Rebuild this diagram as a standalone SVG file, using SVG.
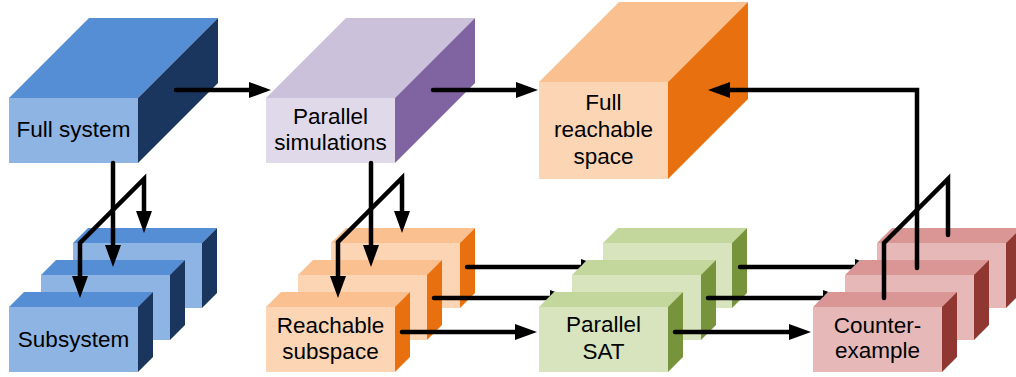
<svg xmlns="http://www.w3.org/2000/svg" width="1016" height="377" viewBox="0 0 1016 377">
  <style>
    text { font-family: "Liberation Sans", Arial, sans-serif; font-size: 22.5px; fill: #000; text-anchor: middle; }
    .blue .top { fill: #558ED5; } .blue .front { fill: #8EB4E3; } .blue .side { fill: #1B365E; }
    .purple .top { fill: #CCC1DA; } .purple .front { fill: #E0D9EA; } .purple .side { fill: #8064A2; }
    .orange .top { fill: #FAC090; } .orange .front { fill: #FCD5B5; } .orange .side { fill: #E9700F; }
    .green .top { fill: #C3D69B; } .green .front { fill: #D7E4BD; } .green .side { fill: #77933C; }
    .red .top { fill: #D99694; } .red .front { fill: #E6B9B8; } .red .side { fill: #913732; }
    .link { fill: none; stroke: #000; stroke-width: 4.5; stroke-linecap: round; stroke-linejoin: miter; }
    .arrow { marker-end: url(#head); }
    .both { marker-start: url(#head); marker-end: url(#head); }
  </style>
  <defs>
    <marker id="head" markerUnits="userSpaceOnUse" viewBox="0 0 22 16" markerWidth="22" markerHeight="16" refX="12" refY="8" orient="auto-start-reverse">
      <path d="M0,0 L22,8 L0,16 Z" fill="#000"/>
    </marker>
    <!-- areas left uncovered by the slab in front of each arrow tip -->
    <clipPath id="behindG2"><path clip-rule="evenodd" d="M0,0H1016V377H0Z M572,340 V275 L587,260 H716 V325 L701,340 Z"/></clipPath>
    <clipPath id="behindG1"><path clip-rule="evenodd" d="M0,0H1016V377H0Z M539,372 V307 L554,292 H683 V357 L668,372 Z"/></clipPath>
    <clipPath id="behindR2"><path clip-rule="evenodd" d="M0,0H1016V377H0Z M845,340 V275 L860,260 H989 V325 L974,340 Z"/></clipPath>
    <clipPath id="behindR1"><path clip-rule="evenodd" d="M0,0H1016V377H0Z M813,372 V307 L828,292 H957 V357 L942,372 Z"/></clipPath>
  </defs>

  <!-- large blocks: front 129 wide, depth 80 -->
  <g id="full-system" class="blue" transform="translate(9,98)">
    <polygon class="top" points="0,0 80,-80 209,-80 129,0"/>
    <polygon class="side" points="129,0 209,-80 209,-15 129,65"/>
    <rect class="front" x="0" y="0" width="129" height="65"/>
    <text x="64.5" y="39">Full system</text>
  </g>
  <g id="parallel-simulations" class="purple" transform="translate(266,98)">
    <polygon class="top" points="0,0 80,-80 209,-80 129,0"/>
    <polygon class="side" points="129,0 209,-80 209,-15 129,65"/>
    <rect class="front" x="0" y="0" width="129" height="65"/>
    <text x="64.5" y="26">Parallel</text>
    <text x="64.5" y="52">simulations</text>
  </g>
  <g id="full-reachable-space" class="orange" transform="translate(539,82)">
    <polygon class="top" points="0,0 80,-80 209,-80 129,0"/>
    <polygon class="side" points="129,0 209,-80 209,17 129,97"/>
    <rect class="front" x="0" y="0" width="129" height="97"/>
    <text x="64.5" y="28">Full</text>
    <text x="64.5" y="55">reachable</text>
    <text x="64.5" y="82">space</text>
  </g>

  <!-- stacked slabs: front 129x65, depth 15 -->
  <g id="subsystem" class="blue">
    <g transform="translate(73,243)">
      <polygon class="top" points="0,0 15,-15 144,-15 129,0"/>
      <polygon class="side" points="129,0 144,-15 144,50 129,65"/>
      <rect class="front" width="129" height="65"/>
    </g>
    <g transform="translate(41,275)">
      <polygon class="top" points="0,0 15,-15 144,-15 129,0"/>
      <polygon class="side" points="129,0 144,-15 144,50 129,65"/>
      <rect class="front" width="129" height="65"/>
    </g>
    <g transform="translate(9,307)">
      <polygon class="top" points="0,0 15,-15 144,-15 129,0"/>
      <polygon class="side" points="129,0 144,-15 144,50 129,65"/>
      <rect class="front" width="129" height="65"/>
      <text x="64.5" y="40">Subsystem</text>
    </g>
  </g>
  <g id="reachable-subspace" class="orange">
    <g transform="translate(331,243)">
      <polygon class="top" points="0,0 15,-15 144,-15 129,0"/>
      <polygon class="side" points="129,0 144,-15 144,50 129,65"/>
      <rect class="front" width="129" height="65"/>
    </g>
    <g transform="translate(298,275)">
      <polygon class="top" points="0,0 15,-15 144,-15 129,0"/>
      <polygon class="side" points="129,0 144,-15 144,50 129,65"/>
      <rect class="front" width="129" height="65"/>
    </g>
    <g transform="translate(266,307)">
      <polygon class="top" points="0,0 15,-15 144,-15 129,0"/>
      <polygon class="side" points="129,0 144,-15 144,50 129,65"/>
      <rect class="front" width="129" height="65"/>
      <text x="64.5" y="26">Reachable</text>
      <text x="64.5" y="52">subspace</text>
    </g>
  </g>
  <g id="parallel-sat" class="green">
    <g transform="translate(603,243)">
      <polygon class="top" points="0,0 15,-15 144,-15 129,0"/>
      <polygon class="side" points="129,0 144,-15 144,50 129,65"/>
      <rect class="front" width="129" height="65"/>
    </g>
    <g transform="translate(572,275)">
      <polygon class="top" points="0,0 15,-15 144,-15 129,0"/>
      <polygon class="side" points="129,0 144,-15 144,50 129,65"/>
      <rect class="front" width="129" height="65"/>
    </g>
    <g transform="translate(539,307)">
      <polygon class="top" points="0,0 15,-15 144,-15 129,0"/>
      <polygon class="side" points="129,0 144,-15 144,50 129,65"/>
      <rect class="front" width="129" height="65"/>
      <text x="64.5" y="25">Parallel</text>
      <text x="64.5" y="52">SAT</text>
    </g>
  </g>
  <g id="counterexample" class="red">
    <g transform="translate(877,243)">
      <polygon class="top" points="0,0 15,-15 144,-15 129,0"/>
      <polygon class="side" points="129,0 144,-15 144,50 129,65"/>
      <rect class="front" width="129" height="65"/>
    </g>
    <g transform="translate(845,275)">
      <polygon class="top" points="0,0 15,-15 144,-15 129,0"/>
      <polygon class="side" points="129,0 144,-15 144,50 129,65"/>
      <rect class="front" width="129" height="65"/>
    </g>
    <g transform="translate(813,307)">
      <polygon class="top" points="0,0 15,-15 144,-15 129,0"/>
      <polygon class="side" points="129,0 144,-15 144,50 129,65"/>
      <rect class="front" width="129" height="65"/>
      <text x="64.5" y="26">Counter-</text>
      <text x="64.5" y="51">example</text>
    </g>
  </g>

  <g id="connectors">
    <!-- top row -->
    <path class="link arrow" d="M176,90 H261"/>
    <path class="link arrow" d="M433,90 H528"/>
    <path class="link arrow" d="M917,268 V90 H718"/>
    <!-- fan-out into the stacks -->
    <path class="link arrow" d="M113,163 V257"/>
    <path class="link both" d="M80,288 V243 L144,179 V223"/>
    <path class="link arrow" d="M371,163 V257"/>
    <path class="link both" d="M338,288 V242 L402,178 V223"/>
    <path class="link" d="M884,298 V243 L948,179 V235"/>
    <!-- stack to stack -->
    <path class="link arrow" d="M402,332 H527"/>
    <path class="link arrow" d="M675,332 H801"/>
    <path class="link arrow" clip-path="url(#behindG2)" d="M467,267 H593"/>
    <path class="link arrow" clip-path="url(#behindG1)" d="M434,298 H562"/>
    <path class="link arrow" clip-path="url(#behindR2)" d="M740,267 H867"/>
    <path class="link arrow" clip-path="url(#behindR1)" d="M708,298 H835"/>
  </g>
</svg>
